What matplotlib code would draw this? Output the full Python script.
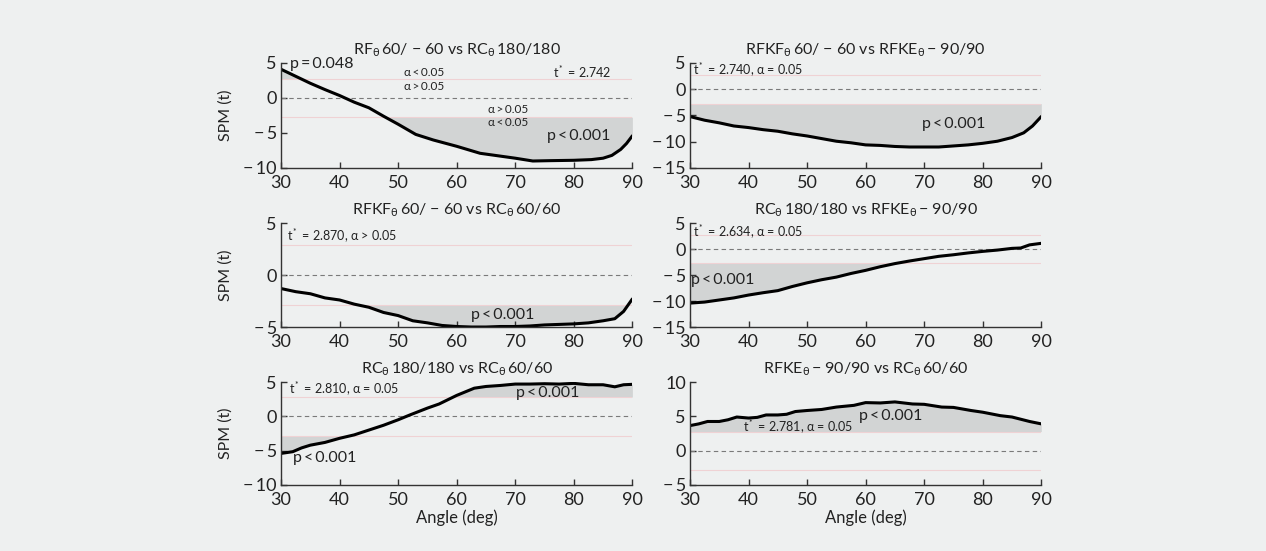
import numpy as np
import matplotlib
matplotlib.use("Agg")
import matplotlib.pyplot as plt

plt.rcParams['font.family'] = ['Lato', 'DejaVu Sans']
plt.rcParams['mathtext.fontset'] = 'custom'
plt.rcParams['mathtext.rm'] = 'Lato'
plt.rcParams['mathtext.it'] = 'Lato:italic'
plt.rcParams['mathtext.bf'] = 'Lato:bold'

# SPM{t} curves (angle in deg, t value)
ang1 = [30, 32.5, 35, 37.5, 40, 42.5, 45, 47.5, 50, 53, 56, 60, 64, 67, 70, 73, 76, 80, 83, 85, 86.5, 88, 89, 90]
spm1 = [4.1, 3.1, 2.1, 1.2, 0.35, -0.6, -1.4, -2.6, -3.75, -5.2, -6.0, -6.9, -7.9, -8.25, -8.6, -9.0, -8.95, -8.9, -8.8, -8.6, -8.2, -7.35, -6.5, -5.4]
thr1 = 2.742

ang2 = [30, 32.5, 35, 37.5, 40, 42.5, 45, 47.5, 50, 52.5, 55, 57.5, 60, 62.5, 65, 67.5, 70, 72.5, 75, 77.5, 80, 82.5, 85, 87, 88.5, 90]
spm2 = [-5.2, -5.9, -6.4, -7.0, -7.3, -7.7, -8.0, -8.5, -8.9, -9.4, -9.9, -10.2, -10.6, -10.7, -10.9, -11.0, -11.0, -11.0, -10.8, -10.6, -10.3, -9.9, -9.2, -8.3, -7.0, -5.2]
thr2 = 2.740

ang3 = [30, 32.5, 35, 37.5, 40, 42.5, 45, 47.5, 50, 52.5, 55, 57.5, 60, 62.5, 65, 67.5, 70, 72.5, 75, 77.5, 80, 82.5, 85, 87, 88.5, 90]
spm3 = [-1.3, -1.6, -1.8, -2.2, -2.4, -2.8, -3.1, -3.6, -3.9, -4.4, -4.6, -4.85, -4.95, -5.0, -5.0, -4.95, -4.95, -4.9, -4.8, -4.75, -4.7, -4.6, -4.4, -4.2, -3.5, -2.3]
thr3 = 2.870

ang4 = [30, 32.5, 35, 37.5, 40, 42.5, 45, 47.5, 50, 52.5, 55, 57.5, 60, 62.5, 65, 67.5, 70, 72.5, 75, 77.5, 80, 82.5, 85, 86.5, 88, 90]
spm4 = [-10.4, -10.2, -9.8, -9.4, -8.85, -8.4, -8.0, -7.2, -6.5, -5.9, -5.4, -4.7, -4.1, -3.4, -2.8, -2.3, -1.85, -1.4, -1.1, -0.75, -0.45, -0.2, 0.13, 0.2, 0.8, 1.1]
thr4 = 2.634

ang5 = [30, 32, 33.5, 35, 37.5, 40, 42.5, 45, 47.5, 50, 52, 55, 57, 60, 63, 65, 67.5, 70, 72.5, 75, 77.5, 80, 82.5, 85, 87, 88.5, 90]
spm5 = [-5.4, -5.15, -4.6, -4.2, -3.8, -3.2, -2.7, -2.0, -1.3, -0.5, 0.2, 1.2, 1.8, 3.05, 4.1, 4.35, 4.5, 4.7, 4.7, 4.75, 4.7, 4.8, 4.6, 4.6, 4.3, 4.6, 4.66]
thr5 = 2.810

ang6 = [30, 31.5, 33, 35, 36.5, 38, 40, 41.5, 43, 45, 46.5, 48, 50, 52.5, 55, 58, 60, 62.5, 65, 68, 70, 73, 75, 78, 80, 83, 85, 88, 90]
spm6 = [3.65, 3.9, 4.25, 4.25, 4.5, 4.9, 4.75, 4.85, 5.2, 5.2, 5.3, 5.7, 5.85, 6.0, 6.35, 6.6, 7.0, 6.95, 7.1, 6.8, 6.75, 6.35, 6.3, 5.85, 5.6, 5.1, 4.9, 4.25, 3.9]
thr6 = 2.781

titles = [
    r"RF$_\mathrm{θ}\,$60/ − 60 vs RC$_\mathrm{θ}\,$180/180",
    r"RFKF$_\mathrm{θ}\,$60/ − 60 vs RFKE$_\mathrm{θ}\,$− 90/90",
    r"RFKF$_\mathrm{θ}\,$60/ − 60 vs RC$_\mathrm{θ}\,$60/60",
    r"RC$_\mathrm{θ}\,$180/180 vs RFKE$_\mathrm{θ}\,$− 90/90",
    r"RC$_\mathrm{θ}\,$180/180 vs RC$_\mathrm{θ}\,$60/60",
    r"RFKE$_\mathrm{θ}\,$− 90/90 vs RC$_\mathrm{θ}\,$60/60",
]
yticks = [[-10, -5, 0, 5], [-15, -10, -5, 0, 5], [-5, 0, 5],
          [-15, -10, -5, 0, 5], [-10, -5, 0, 5], [-5, 0, 5, 10]]

angles = [ang1, ang2, ang3, ang4, ang5, ang6]
values = [spm1, spm2, spm3, spm4, spm5, spm6]
thresholds = [thr1, thr2, thr3, thr4, thr5, thr6]

bg = '#eef0f0'
fig = plt.figure(figsize=(12.66, 5.51), dpi=100, facecolor=bg)

lefts = [0.2220, 0.5450]
bottoms = [0.6951, 0.4065, 0.1198]
heights = [0.1906, 0.1887, 0.1869]

axes = []
for i in range(6):
    r, c = i // 2, i % 2
    ax = fig.add_axes([lefts[c], bottoms[r], 0.2775, heights[r]], facecolor=bg)
    axes.append(ax)
    x = np.array(angles[i], dtype=float)
    y = np.array(values[i], dtype=float)
    t = thresholds[i]
    ax.fill_between(x, y, t, where=y > t, interpolate=True, color='#d2d4d4', lw=0)
    ax.fill_between(x, y, -t, where=y < -t, interpolate=True, color='#d2d4d4', lw=0)
    ax.axhline(t, color='#efd2d4', lw=0.8)
    ax.axhline(-t, color='#efd2d4', lw=0.8)
    ax.axhline(0, color='#7a7a7a', lw=0.8, ls=(0, (4, 3)))
    ax.plot(x, y, color='black', lw=2.2, solid_capstyle='round')
    ax.set_xlim(30, 90)
    ax.set_ylim(yticks[i][0], yticks[i][-1])
    ax.set_xticks([30, 40, 50, 60, 70, 80, 90])
    ax.set_yticks(yticks[i])
    ax.set_yticklabels([("−\u2009%d" % -v) if v < 0 else str(v) for v in yticks[i]])
    for s in ['top', 'right']:
        ax.spines[s].set_visible(False)
    for s in ['left', 'bottom']:
        ax.spines[s].set_color('#333333')
        ax.spines[s].set_linewidth(1.0)
    ax.tick_params(direction='in', length=4, width=1, color='#333333',
                   labelsize=13, labelcolor='#222222')
    ax.tick_params(axis='x', pad=5)
    ax.tick_params(axis='y', pad=3)
    ax.set_title(titles[i], fontsize=11.5, color='#222222', pad=6)
    if c == 0:
        ax.set_ylabel("SPM (t)", fontsize=11.5, color='#222222')
        ax.yaxis.set_label_coords(-0.137, 0.5)
    if r == 2:
        ax.set_xlabel("Angle (deg)", fontsize=12, color='#222222', labelpad=1)

big = 11.5
small = 8.5
mid = 9
tc = '#222222'
plab = "p\u2009<\u20090.001"

ax = axes[0]
ax.text(31.5, 4.9, "p\u2009=\u20090.048", fontsize=big, color=tc, va='center')
ax.text(51, 3.7, "α\u2009<\u20090.05", fontsize=small, color=tc, va='center')
ax.text(51, 1.7, "α\u2009>\u20090.05", fontsize=small, color=tc, va='center')
ax.text(65.4, -1.7, "α\u2009>\u20090.05", fontsize=small, color=tc, va='center')
ax.text(65.4, -3.5, "α\u2009<\u20090.05", fontsize=small, color=tc, va='center')
ax.text(76.4, 3.7, r"t$^*$ = 2.742", fontsize=mid, color=tc, va='center')
ax.text(75.5, -5.4, plab, fontsize=big, color=tc, va='center')

ax = axes[1]
ax.text(30.6, 3.6, r"t$^*$ = 2.740, α = 0.05", fontsize=mid, color=tc, va='center')
ax.text(69.7, -6.6, plab, fontsize=big, color=tc, va='center')

ax = axes[2]
ax.text(31, 3.7, r"t$^*$ = 2.870, α > 0.05", fontsize=mid, color=tc, va='center')
ax.text(62.4, -3.8, plab, fontsize=big, color=tc, va='center')

ax = axes[3]
ax.text(30.6, 3.2, r"t$^*$ = 2.634, α = 0.05", fontsize=mid, color=tc, va='center')
ax.text(30.2, -6.0, plab, fontsize=big, color=tc, va='center')

ax = axes[4]
ax.text(31.4, 3.9, r"t$^*$ = 2.810, α = 0.05", fontsize=mid, color=tc, va='center')
ax.text(70.1, 3.4, plab, fontsize=big, color=tc, va='center')
ax.text(32, -6.1, plab, fontsize=big, color=tc, va='center')

ax = axes[5]
ax.text(39.0, 3.4, r"t$^*$ = 2.781, α = 0.05", fontsize=mid, color=tc, va='center')
ax.text(58.9, 5.1, plab, fontsize=big, color=tc, va='center')

fig.savefig("out.png", dpi=100, facecolor=bg)
